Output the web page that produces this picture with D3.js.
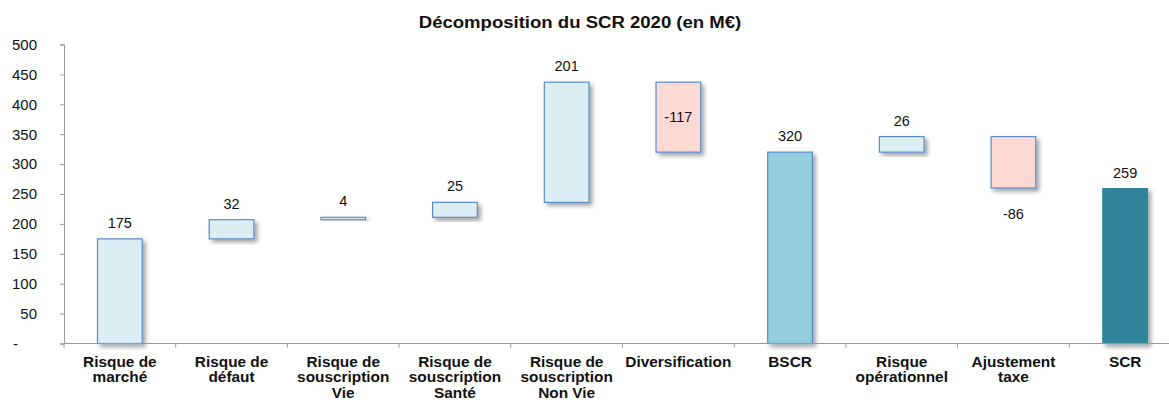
<!DOCTYPE html>
<html>
<head>
<meta charset="utf-8">
<script src="https://cdn.jsdelivr.net/npm/d3@7"></script>
<style>
  body { margin: 0; background: #fff; }
  svg { font-family: "Liberation Sans", Arial, sans-serif; }
</style>
</head>
<body>
<div id="chart"></div>
<script>
// data
var categories = ["Risque de|marché", "Risque de|défaut", "Risque de|souscription|Vie",
  "Risque de|souscription|Santé", "Risque de|souscription|Non Vie", "Diversification",
  "BSCR", "Risque|opérationnel", "Ajustement|taxe", "SCR"];
var values = [175, 32, 4, 25, 201, -117, 320, 26, -86, 259];
var kinds = ["step", "step", "step", "step", "step", "step", "total", "step", "step", "final"];
var yTicks = [0, 50, 100, 150, 200, 250, 300, 350, 400, 450, 500];

var width = 1169, height = 405;
var margin = {top: 44, left: 64, bottom: 62};
var plotRight = 1181; // plot runs past the right edge in the original

var svg = d3.select("#chart").append("svg")
  .attr("width", width)
  .attr("height", height);

var defs = svg.append("defs");
var f = defs.append("filter").attr("id", "shadow")
  .attr("x", "-20%").attr("y", "-20%").attr("width", "150%").attr("height", "150%");
f.append("feDropShadow").attr("dx", 3).attr("dy", 3).attr("stdDeviation", 2)
  .attr("flood-color", "#000").attr("flood-opacity", 0.35);

var x = d3.scaleBand().domain(d3.range(categories.length))
  .range([margin.left, plotRight]).paddingInner(0.6).paddingOuter(0.3);
var xb = d3.scaleBand().domain(d3.range(categories.length)).range([margin.left, plotRight]);
var y = d3.scaleLinear().domain([0, 500]).range([343.5, 44.5]);

// compute waterfall bases
var running = 0;
var bars = values.map(function(v, i) {
  var d = {i: i, v: v, kind: kinds[i]};
  if (kinds[i] === "step") {
    d.y0 = running; d.y1 = running + v; running += v;
  } else {
    d.y0 = 0; d.y1 = v; running = v;
  }
  return d;
});

var fills = {pos: "#DBEEF4", neg: "#FCD9D4", total: "#93CDDD", final: "#31849B"};
function fillOf(d) {
  if (d.kind === "total") return fills.total;
  if (d.kind === "final") return fills.final;
  return d.v < 0 ? fills.neg : fills.pos;
}

svg.append("g").selectAll("rect").data(bars).enter().append("rect")
  .attr("x", function(d) { return x(d.i); })
  .attr("width", x.bandwidth())
  .attr("y", function(d) { return y(Math.max(d.y0, d.y1)); })
  .attr("height", function(d) { return Math.abs(y(d.y0) - y(d.y1)); })
  .attr("fill", fillOf)
  .attr("stroke", function(d) { return d.kind === "final" ? "#31849B" : "#5B8BC9"; })
  .attr("stroke-width", 1.2)
  .attr("filter", "url(#shadow)");

// value labels
svg.append("g").selectAll("text").data(bars).enter().append("text")
  .attr("x", function(d) { return x(d.i) + x.bandwidth() / 2; })
  .attr("y", function(d) {
    if (d.i === 5) return (y(d.y0) + y(d.y1)) / 2 + 5;
    if (d.i === 8) return y(d.y1) + 31;
    return y(Math.max(d.y0, d.y1)) - 11;
  })
  .attr("text-anchor", "middle")
  .attr("font-size", 14.5)
  .attr("fill", "#111")
  .text(function(d) { return d.v; });

// axes
var yAxis = d3.axisLeft(y).tickValues(yTicks).tickSize(4).tickPadding(23)
  .tickFormat(function(d) { return d === 0 ? "-" : d; });
var gy = svg.append("g").attr("transform", "translate(" + margin.left + ",0)").call(yAxis);
gy.select(".domain").attr("stroke", "#999");
gy.selectAll(".tick line").attr("stroke", "#999");
gy.selectAll(".tick text").attr("font-size", 15).attr("fill", "#111")
  .attr("font-family", "Liberation Sans, Arial, sans-serif")
  .attr("dx", function(d) { return d === 0 ? -19 : 0; });

var gx = svg.append("g").attr("transform", "translate(0," + y(0) + ")");
gx.append("line").attr("x1", margin.left).attr("x2", plotRight)
  .attr("stroke", "#999");
gx.selectAll(".tk").data(d3.range(categories.length + 1)).enter().append("line")
  .attr("x1", function(i) { return margin.left + i * xb.bandwidth(); })
  .attr("x2", function(i) { return margin.left + i * xb.bandwidth(); })
  .attr("y1", 0).attr("y2", 4).attr("stroke", "#999");

var labels = svg.append("g").selectAll("text").data(categories).enter().append("text")
  .attr("text-anchor", "middle")
  .attr("font-size", 14)
  .attr("font-weight", "bold")
  .attr("fill", "#111")
  .attr("transform", function(d, i) {
    return "translate(" + (xb(i) + xb.bandwidth() / 2) + ",367) scale(1.1,1)";
  });
labels.each(function(d) {
  var t = d3.select(this);
  d.split("|").forEach(function(line, k) {
    t.append("tspan").attr("x", 0).attr("y", k * 15.5).text(line);
  });
});

svg.append("text")
  .attr("transform", "translate(580,28) scale(1.16,1)")
  .attr("text-anchor", "middle")
  .attr("font-size", 16)
  .attr("font-weight", "bold")
  .attr("fill", "#111")
  .text("Décomposition du SCR 2020 (en M€)");
</script>
</body>
</html>
